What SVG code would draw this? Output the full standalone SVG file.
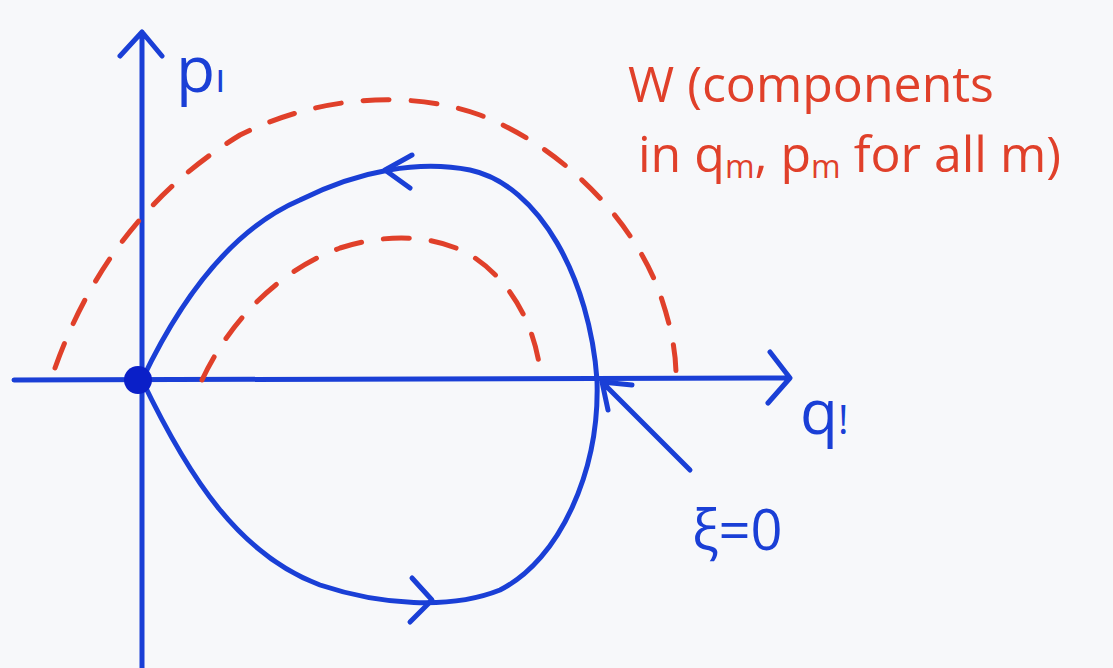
<svg xmlns="http://www.w3.org/2000/svg" width="1113" height="668" viewBox="0 0 1113 668">
<style>
.ax{stroke:#1a3fd6;stroke-width:5;fill:none;stroke-linecap:round;stroke-linejoin:round}
.rd{stroke:#e0402a;stroke-width:5;fill:none;stroke-linecap:round;stroke-dasharray:26 22}
.bt{font-family:"Open Sans",sans-serif;fill:#1a3fd6}
.rt{font-family:"Open Sans",sans-serif;fill:#e0402a;font-size:50px}
</style>
<rect width="1113" height="668" fill="#f7f8fa"/>
<g id="connectors">
<path class="ax" d="M142,668 L142,32 M120,56 L142,32 L162,56"/>
<path class="ax" d="M14,380 L788,378 M770,352 L790,378 L768,403"/>
<path class="ax" d="M142,380 C180,300 230,230 300,200 C360,170 420,160 470,170 C540,185 590,280 597,380 C600,470 560,560 500,590 C450,610 380,605 320,585 C240,555 190,480 142,380"/>
<path class="ax" d="M412,155 L385,170 L410,188"/>
<path class="ax" d="M412,578 L432,600 L410,622"/>
<path class="ax" d="M690,470 L602,382 M602,382 L632,385 M602,382 L608,410"/>
<path class="rd" d="M55,368 C90,270 150,190 240,135 C320,95 410,90 480,115 C570,150 640,230 662,300 C672,330 676,355 676,375"/>
<path class="rd" d="M202,380 C230,320 280,270 340,248 C390,232 440,235 475,258 C515,285 535,330 540,370"/>
</g>
<g id="origin"><circle cx="138" cy="380" r="14" fill="#0a1fc8"/></g>
<g id="p1"><text class="bt" x="176" y="92" font-size="64">p<tspan font-size="40">ı</tspan></text></g>
<g id="q1"><text class="bt" x="800" y="434" font-size="62">q<tspan font-size="40">!</tspan></text></g>
<g id="xi"><text class="bt" x="692" y="550" font-size="56">ξ=0</text></g>
<g id="W"><text class="rt" x="628" y="102">W (components</text><text class="rt" x="638" y="172">in q<tspan font-size="32" dy="6">m</tspan><tspan dy="-6">, p</tspan><tspan font-size="32" dy="6">m</tspan><tspan dy="-6"> for all m)</tspan></text></g>
</svg>
